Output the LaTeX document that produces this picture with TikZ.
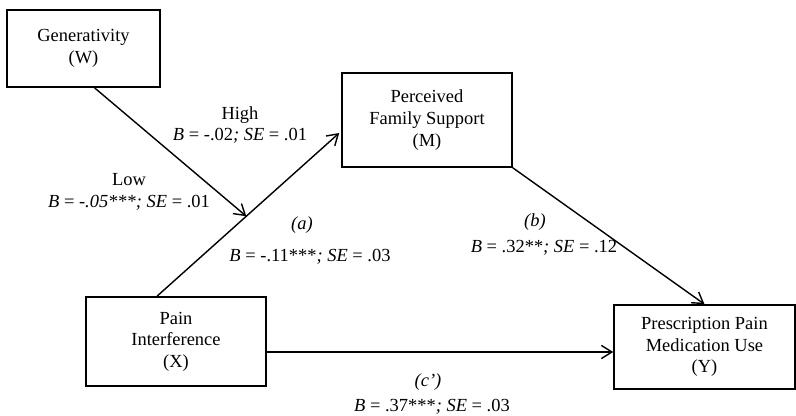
\documentclass[tikz,border=0pt]{standalone}
\usepackage{fontspec}
\setmainfont{Liberation Serif}
\usetikzlibrary{calc, arrows.meta}

\begin{document}
\begin{tikzpicture}[x=0.02cm, y=-0.02cm,
    varbox/.style={draw, line width=0.9pt, align=center, inner sep=0pt,
                   font=\fontsize{10.5}{12.3}\selectfont},
    path/.style={line width=0.8pt, -{Straight Barb[length=6pt, width=7.5pt, line width=0.8pt]}},
    coef/.style={align=center, inner sep=0pt, font=\fontsize{10.5}{12.5}\selectfont}]
                \useasboundingbox (0,0) rectangle (796,416);

                % the four variables
                \node[varbox, minimum width=3.06cm, minimum height=1.54cm] (W) at (83.5,48.5) {Generativity\\(W)};
                \node[varbox, minimum width=3.40cm, minimum height=1.88cm] (M) at (427,120) {Perceived\\Family Support\\(M)};
                \node[varbox, minimum width=3.60cm, minimum height=1.78cm] (X) at (176,341.5) {Pain\\Interference\\(X)};
                \node[varbox, minimum width=3.62cm, minimum height=1.68cm] (Y) at (704.5,347) {Prescription Pain\\Medication Use\\(Y)};

                % paths
                \coordinate (aStart) at ($(X.north)+(-19,0)$);
                \coordinate (aEnd) at ($(M.west)+(-2,13)$);
                \draw[path] (aStart) -- (aEnd);

                \coordinate (wStart) at ($(W.south)+(11,0)$);
                \coordinate (wEnd) at ($(aStart)!0.49!(aEnd)$);
                \draw[path] (wStart) -- (wEnd);

                \draw[path] (M.south east) -- (Y.north);

                \coordinate (cStart) at ($(X.east)+(0,10.5)$);
                \draw[path] (cStart) -- (cStart -| Y.west);

                % coefficients
                \node[coef] (high) at (240,125) {High\\\textit{B} = -.02\textit{; SE} = .01};
                \node[coef] (low) at (129,192) {Low\\\textit{B} = \textit{-.05***; SE} = .01};
                \node[coef] (aLab) at (302,225) {\textit{(a)}};
                \node[coef] (aCoef) at (310,257) {\textit{B} = -.11***\textit{; SE} = .03};
                \node[coef] (bLab) at (535,222) {\textit{(b)}};
                \node[coef] (bCoef) at (544,248) {\textit{B} = .32**\textit{; SE} = .12};
                \node[coef] (cLab) at (428,382) {\textit{(c')}};
                \node[coef] (cCoef) at (432,407) {\textit{B} = .37***\textit{; SE} = .03};
            \end{tikzpicture}
\end{document}
